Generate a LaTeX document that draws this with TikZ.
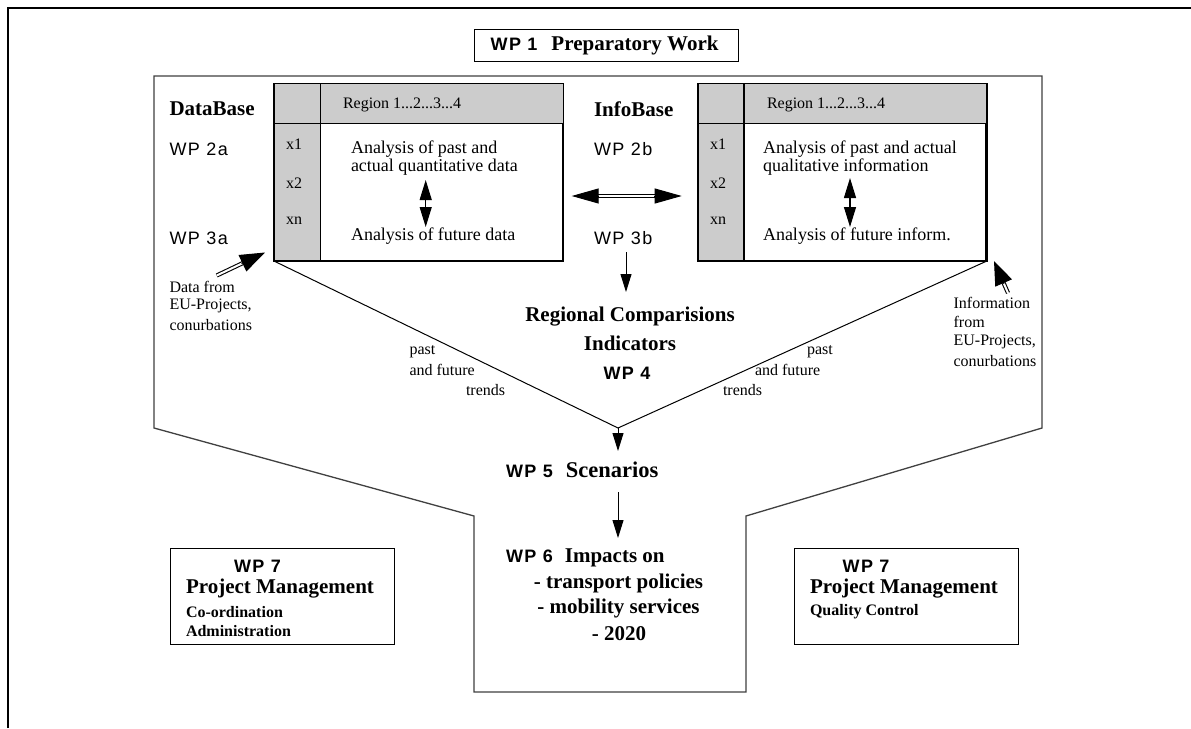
\documentclass[tikz,border=0pt]{standalone}
\usepackage{fontspec}
\setmainfont{Liberation Serif}
\newfontfamily\sansLS[LetterSpace=8]{Liberation Sans}
\usetikzlibrary{arrows.meta,calc}
\newcommand\fWPb{\sansLS\bfseries\fontsize{18}{21}\selectfont}
\newcommand\fWPr{\sansLS\fontsize{18}{21}\selectfont}
\newcommand\fBig{\bfseries\fontsize{21}{25}\selectfont}
\newcommand\fSm{\fontsize{16}{19}\selectfont}
\newcommand\fSmB{\bfseries\fontsize{16}{19}\selectfont}
\newcommand\fMd{\fontsize{18}{22}\selectfont}
\definecolor{cellgray}{gray}{0.80}
\definecolor{linegray}{gray}{0.25}
\tikzset{
  txt/.style={inner sep=0pt, outer sep=0pt, anchor=west},
  ctxt/.style={inner sep=0pt, outer sep=0pt, anchor=center},
  tablebox/.style={draw=black, line width=1.5pt, minimum width=#1, minimum height=176pt, inner sep=0pt},
  outline/.style={draw=linegray, line width=1.3pt, line join=miter},
  plainbox/.style={draw=black, line width=1pt, inner sep=0pt},
  dbl/.style={{Triangle[length=20pt,width=12pt]}-{Triangle[length=20pt,width=12pt]}, line width=1.2pt},
  downarrow/.style={-{Triangle[length=18pt,width=11pt]}, line width=1pt},
  bigtip/.style={-{Triangle[length=#1,width=18pt]}, line width=1pt},
  dline/.style={draw=black, double=white, double distance=2pt, line width=1.1pt},
}
\begin{document}
\begin{tikzpicture}[x=1pt,y=-1pt]
\useasboundingbox (0,0) rectangle (1191,728);
\fill[white] (0,0) rectangle (1191,728);
% outer frame (only top and left visible)
\draw[line width=2pt] (8.4,728) -- (8.4,7.5) -- (1191,7.5);

% WP 1 box
\node[plainbox, minimum width=264pt, minimum height=32pt] (wp1) at (606.5,45) {};
\node[txt] (wp1t) at (490.6,45) {{\fWPb WP 1}\hspace{14pt}{\fBig Preparatory Work}};

% main outline
\draw[outline] (154,428) -- (154,76) -- (1042,76) -- (1042,428) -- (746,516) -- (746,692) -- (474,692) -- (474,516) -- cycle;

% left table
\node[tablebox=287.8pt] (ltab) at (418.7,172.3) {};
\fill[cellgray] (ltab.north west) rectangle (562.6,123.3);
\fill[cellgray] (ltab.north west) rectangle (320.3,260.3);
\draw[line width=1.5pt] (ltab.north west) rectangle (ltab.south east);
\draw[line width=1.5pt] (320.3,84.3) -- (320.3,260.3);
\draw[line width=1.5pt] (274.8,123.3) -- (562.6,123.3);

% right table
\node[tablebox=287.3pt] (rtab) at (842.35,172.3) {};
\fill[cellgray] (rtab.north west) rectangle (986,123.3);
\fill[cellgray] (rtab.north west) rectangle (744.2,260.3);
\draw[line width=1.5pt] (rtab.north west) rectangle (rtab.south east);
\draw[line width=1.5pt] (744.2,84.3) -- (744.2,260.3);
\draw[line width=1.5pt] (698.7,123.3) -- (986,123.3);

% left table texts
\node[txt] (lreg) at (343,105) {\fSm Region 1...2...3...4};
\node[txt] (lx1) at (286,144) {\fSm x1};
\node[txt] (lx2) at (286,183) {\fSm x2};
\node[txt] (lxn) at (286,221) {\fSm xn};
\node[txt, align=left] (lpast) at (351,158) {\fMd Analysis of past and\\ \fMd actual quantitative data};
\node[txt] (lfut) at (351,236) {\fMd Analysis of future data};
\coordinate (la1) at (425.7,180);
\coordinate (la2) at (425.7,227);
\draw[dbl] (la1) -- (la2);

% right table texts
\node[txt] (rreg) at (767,105) {\fSm Region 1...2...3...4};
\node[txt] (rx1) at (710,144) {\fSm x1};
\node[txt] (rx2) at (710,183) {\fSm x2};
\node[txt] (rxn) at (710,221) {\fSm xn};
\node[txt, align=left] (rpast) at (763,158) {\fMd Analysis of past and actual\\ \fMd qualitative information};
\node[txt] (rfut) at (763,236) {\fMd Analysis of future inform.};
\coordinate (ra1) at (850,178);
\coordinate (ra2) at (850,227);
\draw[dbl] (ra1) -- (ra2);

% side labels
\node[txt] (dbase) at (169.5,109) {\fBig DataBase};
\node[txt] (wp2a) at (169.5,149) {\fWPr WP 2a};
\node[txt] (wp3a) at (169.5,238) {\fWPr WP 3a};
\node[txt] (ibase) at (594,109) {\fBig InfoBase};
\node[txt] (wp2b) at (594,149) {\fWPr WP 2b};
\node[txt] (wp3b) at (594,238) {\fWPr WP 3b};

% horizontal double arrow between tables
\coordinate (hl) at (571.7,196);
\coordinate (hr) at (681.7,196);
\coordinate (hlb) at (597,196);
\coordinate (hrb) at (656,196);
\draw[dline] (hlb) -- (hrb);
\draw[-{Triangle[length=27pt,width=15pt]}, line width=1pt] (599,196) -- (hl);
\draw[-{Triangle[length=27pt,width=15pt]}, line width=1pt] (654,196) -- (hr);

% arrow WP3b -> regional comparisons
\coordinate (d1a) at (626,252);
\coordinate (d1b) at (626,292);
\draw[downarrow] (d1a) -- (d1b);

\node[ctxt] (rc1) at (630,317) {\fBig Regional Comparisions};
\node[ctxt] (rc2) at (630,343) {\fBig Indicators};
\node[ctxt] (wp4) at (627,373) {\fWPb WP 4};

% V lines
\coordinate (vb) at (618,428);
\draw[line width=1pt] (ltab.south west) -- (vb) -- (rtab.south east);
\coordinate (s5) at (618,451);
\draw[downarrow] (vb) -- (s5);

% trends labels
\node[txt] (lp1) at (409.5,352) {\fSm past};
\node[txt] (lp2) at (409.5,370) {\fSm and future};
\node[txt] (lp3) at (466,390) {\fSm trends};
\node[txt] (rp1) at (807,352) {\fSm past};
\node[txt] (rp2) at (755,370) {\fSm and future};
\node[txt] (rp3) at (723,390) {\fSm trends};

% WP 5
\node[txt] (wp5) at (506,470) {{\fWPb WP 5}\hspace{13pt}{\bfseries\fontsize{22.5}{26}\selectfont Scenarios}};
\coordinate (s6a) at (618,492);
\coordinate (s6b) at (618,538);
\draw[downarrow] (s6a) -- (s6b);

% WP 6
\node[txt] (wp6) at (506,558) {{\fWPb WP 6}\hspace{12pt}{\fBig Impacts on}};
\node[ctxt] (wp6a) at (618.5,583) {\fBig - transport policies};
\node[ctxt] (wp6b) at (618.5,608) {\fBig - mobility services};
\node[ctxt] (wp6c) at (619,634) {\fBig - 2020};

% data from arrow
\coordinate (dtail) at (216.7,275.5);
\coordinate (dtip) at (265,252.5);
\draw[dline] (dtail) -- ($(dtip)!22pt!(dtail)$);
\draw[bigtip=25pt] ($(dtip)!26pt!(dtail)$) -- (dtip);
\node[txt] (df1) at (169.5,287) {\fSm Data from};
\node[txt] (df2) at (169.5,306) {\fSm EU-Projects,};
\node[txt] (df3) at (169.5,325) {\fSm conurbations};

% information arrow
\coordinate (itail) at (1008,293);
\coordinate (itip) at (994,261);
\draw[dline] (itail) -- ($(itip)!22pt!(itail)$);
\draw[bigtip=24pt] ($(itip)!25pt!(itail)$) -- (itip);
\node[txt] (if1) at (953.6,303) {\fSm Information};
\node[txt] (if2) at (953.6,322) {\fSm from};
\node[txt] (if3) at (953.6,342) {\fSm EU-Projects,};
\node[txt] (if4) at (953.6,361) {\fSm conurbations};

% WP 7 boxes
\node[plainbox, minimum width=224.6pt, minimum height=96pt] (wp7l) at (282.3,596) {};
\node[txt] (wp7lt) at (234,566) {\fWPb WP 7};
\node[txt] (wp7lp) at (186,589) {\fBig Project Management};
\node[txt] (wp7lc) at (186,612) {\fSmB Co-ordination};
\node[txt] (wp7la) at (186,631) {\fSmB Administration};

\node[plainbox, minimum width=224pt, minimum height=96pt] (wp7r) at (906,596) {};
\node[txt] (wp7rt) at (842.6,566) {\fWPb WP 7};
\node[txt] (wp7rp) at (810,589) {\fBig Project Management};
\node[txt] (wp7rq) at (810,612) {\fSmB Quality Control};
\end{tikzpicture}
\end{document}
